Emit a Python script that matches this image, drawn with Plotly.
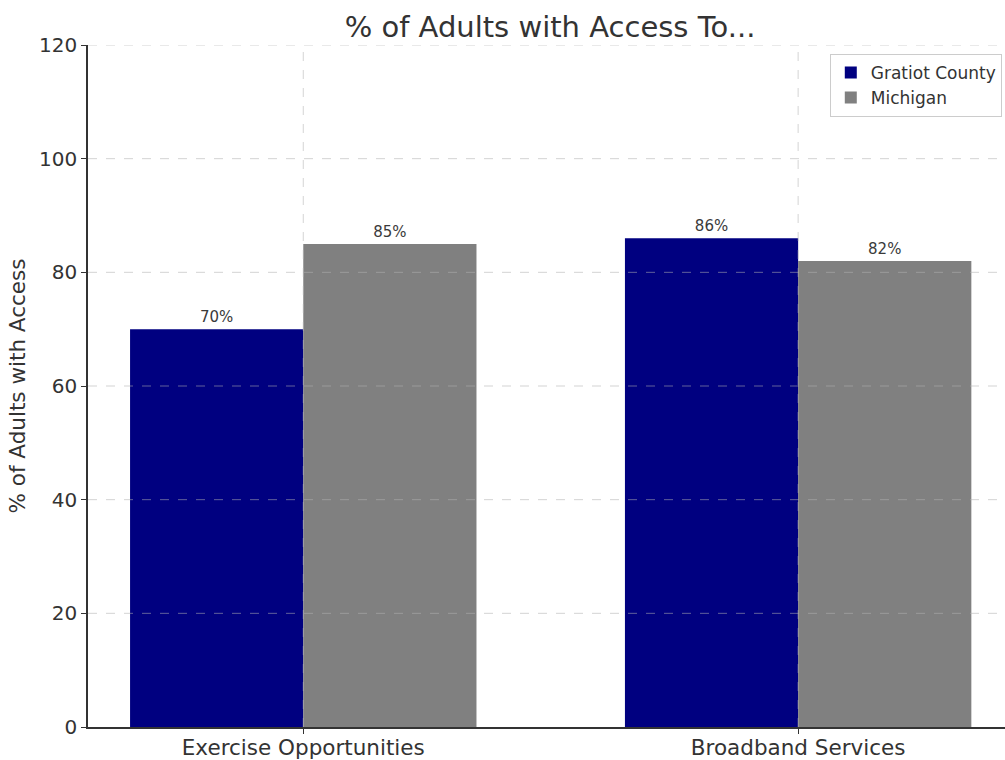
import plotly.graph_objects as go

categories = ["Exercise Opportunities", "Broadband Services"]
gratiot = [70, 86]
michigan = [85, 82]
series_names = ["Gratiot County", "Michigan"]
y_ticks = [0, 20, 40, 60, 80, 100, 120]

FONT = "DejaVu Sans"
TXT = "#333333"
GRID = "rgba(176,176,176,0.55)"

fig = go.Figure()
fig.add_trace(go.Bar(x=categories, y=gratiot, name=series_names[0],
                     marker=dict(color="#000080", line=dict(width=0)),
                     texttemplate="%{y}%", textposition="outside",
                     textfont=dict(size=15, color="#3a3a3a", family=FONT), cliponaxis=False))
fig.add_trace(go.Bar(x=categories, y=michigan, name=series_names[1],
                     marker=dict(color="#808080", line=dict(width=0)),
                     texttemplate="%{y}%", textposition="outside",
                     textfont=dict(size=15, color="#3a3a3a", family=FONT), cliponaxis=False))

shapes = []
for t in y_ticks[1:]:
    shapes.append(dict(type="line", xref="paper", yref="y", x0=0, x1=1, y0=t, y1=t,
                       line=dict(color=GRID, width=1, dash="dash"), layer="above"))
for c in categories:
    shapes.append(dict(type="line", xref="x", yref="paper", x0=c, x1=c, y0=0, y1=1,
                       line=dict(color=GRID, width=1, dash="dash"), layer="above"))

fig.update_layout(
    width=1005, height=760,
    margin=dict(l=88, r=0, t=45, b=33),
    paper_bgcolor="white", plot_bgcolor="white",
    font=dict(family=FONT, color=TXT),
    barmode="group", bargap=0.3, bargroupgap=0,
    title=dict(text="% of Adults with Access To...", x=(550 / 1005), xanchor="center",
               y=1 - 27 / 760, yanchor="middle", font=dict(size=29, color=TXT, family=FONT)),
    shapes=shapes,
    legend=dict(x=0.9965, xanchor="right", y=0.987, yanchor="top",
                bordercolor="#cccccc", borderwidth=1, bgcolor="rgba(255,255,255,0.8)",
                font=dict(size=17, color=TXT, family=FONT), tracegroupgap=2),
    xaxis=dict(type="category", range=[-0.435, 1.418], showgrid=False,
               showline=True, linecolor="#333333", linewidth=1.5,
               ticks="outside", ticklen=5, tickcolor="#333333",
               ticklabelstandoff=-5,
               tickfont=dict(size=21.5, color=TXT, family=FONT)),
    yaxis=dict(range=[0, 120], tickvals=y_ticks, showgrid=False, zeroline=False,
               showline=True, linecolor="#333333", linewidth=1.5,
               ticks="outside", ticklen=5, tickcolor="#333333",
               tickfont=dict(size=20, color=TXT, family=FONT),
               title=dict(text="% of Adults with Access", standoff=8,
                          font=dict(size=21.5, color=TXT, family=FONT))),
)

fig.write_html("out.html")
